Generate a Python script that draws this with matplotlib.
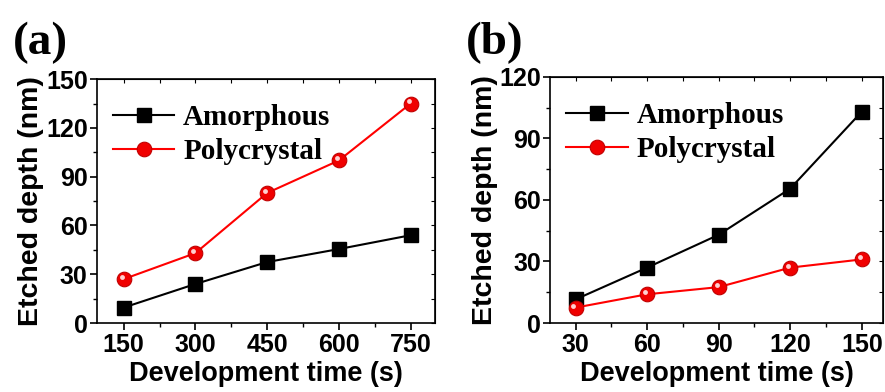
from matplotlib import pyplot as plt
from matplotlib.ticker import MultipleLocator
from matplotlib.transforms import ScaledTranslation

# panel (a)
time_a = [150, 300, 450, 600, 750]
amorph_a = [9.5, 24, 37.5, 45.5, 54]
poly_a = [27, 43, 80, 100, 135]

# panel (b)
time_b = [30, 60, 90, 120, 150]
amorph_b = [11.5, 27, 43, 65.5, 103]
poly_b = [7.5, 14, 17.5, 27, 31]

sans = ['Liberation Sans', 'DejaVu Sans']
serif = ['Liberation Serif', 'DejaVu Serif']

fig = plt.figure(figsize=(8.85, 3.92), dpi=100)


def draw(rect, x, am, po, xlim, ylim, xstep, ystep, tag):
    ax = fig.add_axes(rect)
    ax.plot(x, am, color='black', lw=1.5, marker='s', ms=10,
            mfc='black', mec='black', label='Amorphous', zorder=3)
    ax.plot(x, po, color='red', lw=1.5, marker='o', ms=10.5,
            mfc='#f00000', mec='#c00000', mew=0.8, label='Polycrystal', zorder=3)
    # little shine on the balls, up and to the left
    shift = ax.transData + ScaledTranslation(-1.5 / 72, 1.5 / 72, fig.dpi_scale_trans)
    ax.plot(x, po, ls='none', marker='o', ms=3.5, mfc='#ffd0d0', mec='none',
            transform=shift, zorder=4)
    ax.set_xlim(*xlim)
    ax.set_ylim(*ylim)
    ax.xaxis.set_major_locator(MultipleLocator(xstep))
    ax.xaxis.set_minor_locator(MultipleLocator(xstep / 2))
    ax.yaxis.set_major_locator(MultipleLocator(ystep))
    ax.yaxis.set_minor_locator(MultipleLocator(ystep / 2))
    ax.set_xticks(x)
    ax.tick_params(which='major', direction='out', length=5, width=1.2,
                   labelsize=18, pad=2)
    ax.tick_params(which='minor', direction='out', length=3, width=1)
    for lab in ax.get_xticklabels() + ax.get_yticklabels():
        lab.set_family(sans)
        lab.set_fontweight('bold')
    for s in ax.spines.values():
        s.set_linewidth(1.2)
    # inward ticks on the top and right
    top = ax.secondary_xaxis('top')
    top.xaxis.set_major_locator(MultipleLocator(xstep / 2))
    top.tick_params(direction='in', length=3, labeltop=False)
    right = ax.secondary_yaxis('right')
    right.yaxis.set_major_locator(MultipleLocator(ystep / 2))
    right.tick_params(direction='in', length=3, labelright=False)
    ax.set_xlabel('Development time (s)', family=sans, fontweight='bold',
                  fontsize=19.5, labelpad=3)
    ax.set_ylabel('Etched depth (nm)', family=sans, fontweight='bold',
                  fontsize=20.5, labelpad=1)
    ax.legend(loc='upper left', bbox_to_anchor=(-0.005, 0.97), frameon=False,
              prop={'family': serif, 'weight': 'bold', 'size': 21},
              handlelength=2.1, handletextpad=0.3, labelspacing=0.25,
              borderaxespad=0.2)
    fig.text(rect[0] - 0.096, 0.945, tag, family=serif, fontweight='bold',
             fontsize=34, va='top')
    return ax


draw([0.110, 0.176, 0.381, 0.622], time_a, amorph_a, poly_a,
     (95, 800), (0, 150), 150, 30, '(a)')
draw([0.622, 0.176, 0.376, 0.628], time_b, amorph_b, poly_b,
     (19.5, 159), (0, 120), 30, 30, '(b)')

plt.savefig('out.png', dpi=100)
